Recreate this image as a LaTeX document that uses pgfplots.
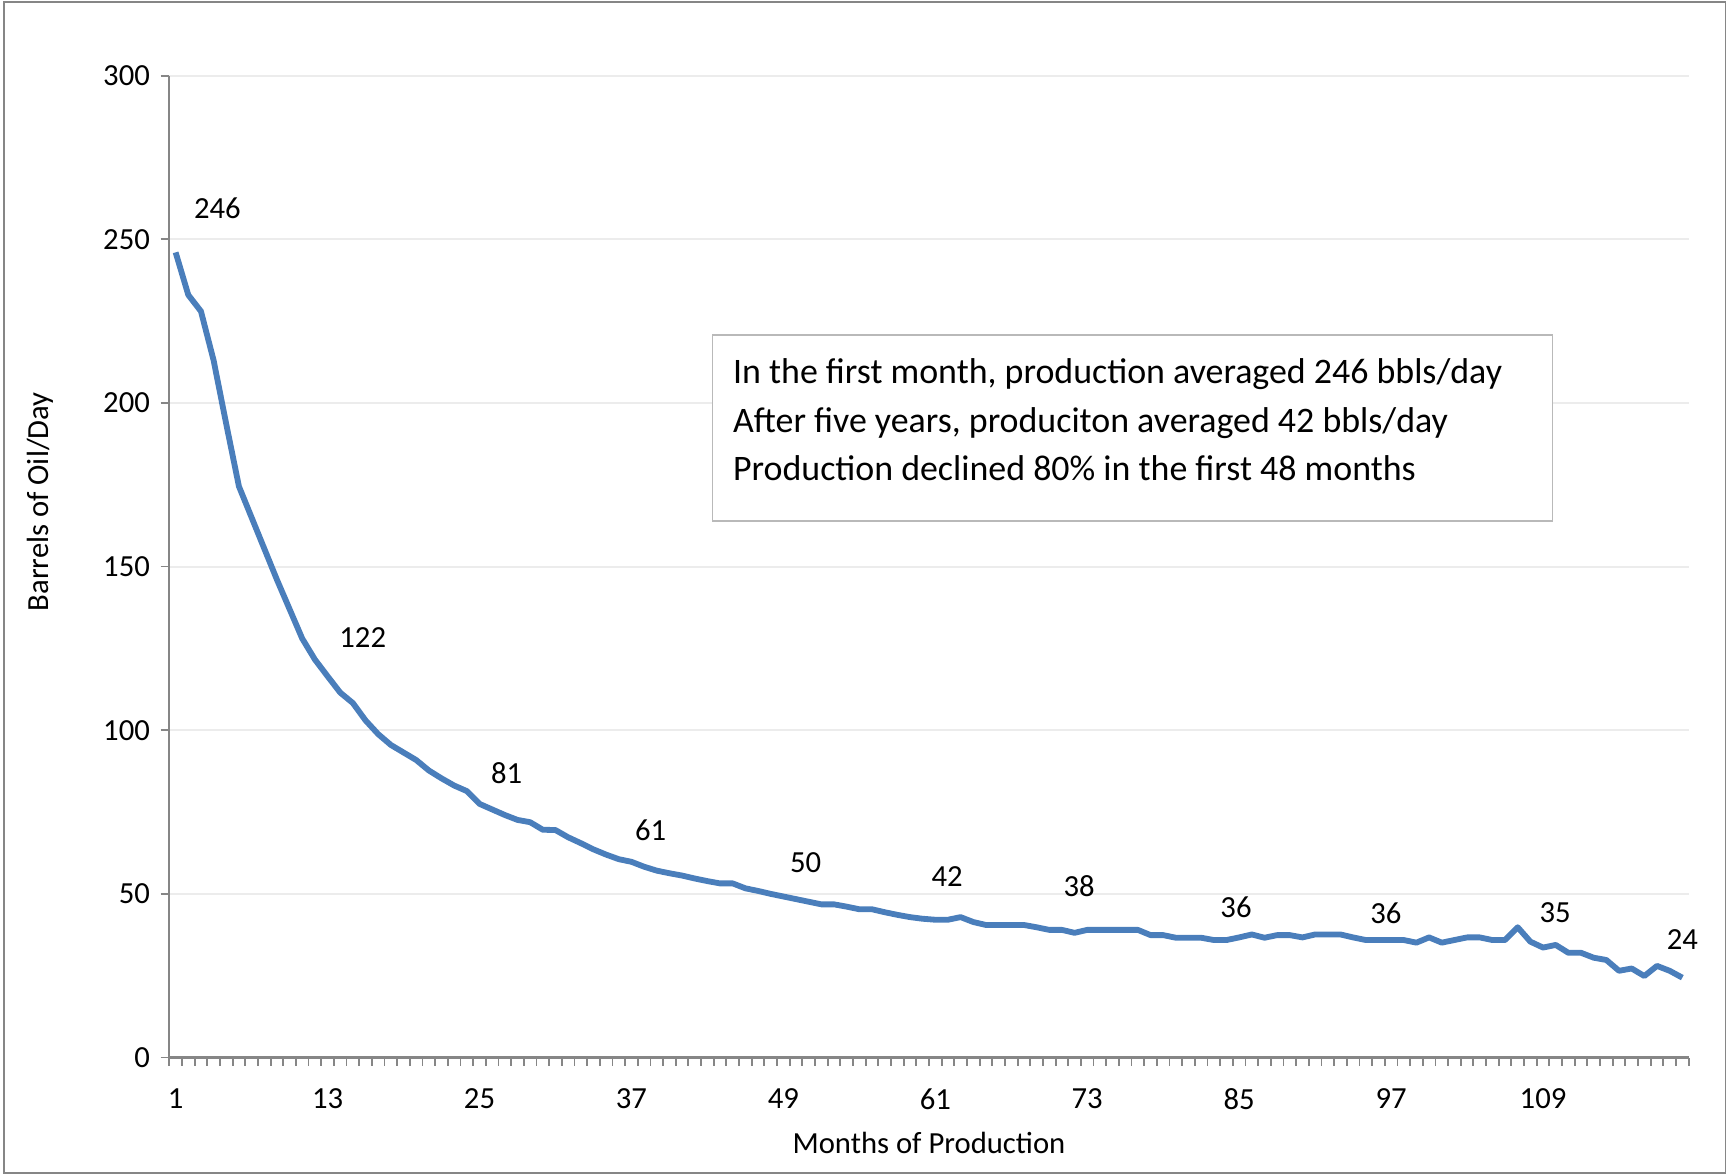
\documentclass[border=0pt]{standalone}
\usepackage{fontspec}
\setmainfont{Carlito}
\usepackage{pgfplots}
\pgfplotsset{compat=1.18}
\usepackage{pgfplotstable}

\definecolor{serieblue}{RGB}{74,126,187}
\definecolor{axisgray}{RGB}{134,134,134}
\definecolor{gridgray}{RGB}{236,236,236}
\definecolor{framegray}{RGB}{134,134,134}
\definecolor{boxgray}{RGB}{185,185,185}

% Average daily oil production by month of production
\pgfplotstableread{
month bopd
1 246
2 233
3 228
4 213
5 193.5
6 174.5
7 165
8 155.5
9 146
10 137
11 128
12 121.6
13 116.5
14 111.5
15 108.3
16 103
17 98.8
18 95.5
19 93.2
20 90.9
21 87.7
22 85.3
23 83.1
24 81.4
25 77.5
26 75.8
27 74.1
28 72.6
29 71.9
30 69.6
31 69.5
32 67.3
33 65.5
34 63.6
35 62.0
36 60.6
37 59.8
38 58.3
39 57.1
40 56.3
41 55.6
42 54.7
43 53.9
44 53.2
45 53.2
46 51.7
47 50.9
48 50.0
49 49.2
50 48.4
51 47.6
52 46.8
53 46.8
54 46.1
55 45.3
56 45.3
57 44.4
58 43.6
59 42.9
60 42.4
61 42.1
62 42.1
63 42.9
64 41.4
65 40.5
66 40.5
67 40.5
68 40.5
69 39.8
70 39.0
71 39.0
72 38.1
73 39.0
74 39.0
75 39.0
76 39.0
77 39.0
78 37.4
79 37.4
80 36.6
81 36.6
82 36.6
83 35.9
84 35.9
85 36.7
86 37.6
87 36.6
88 37.4
89 37.4
90 36.7
91 37.6
92 37.6
93 37.6
94 36.7
95 35.9
96 35.9
97 35.9
98 35.9
99 35.1
100 36.7
101 35.1
102 35.9
103 36.7
104 36.7
105 35.9
106 35.9
107 39.8
108 35.4
109 33.6
110 34.4
111 32.0
112 32.0
113 30.5
114 29.8
115 26.5
116 27.2
117 24.9
118 28.0
119 26.5
120 24.4
}\production

% Yearly checkpoints that carry a value label (offsets in pt)
\pgfplotstableread{
month bopd dx dy
1 246 13.6 14.3
12 121.6 15.6 7.2
24 81.4 13.0 5.9
36 60.6 10.4 9.4
48 50.0 11.4 10.3
60 42.4 8.0 13.6
72 38.1 1.5 15.1
84 35.9 3.1 10.8
96 35.9 2.4 8.6
108 35.4 8.1 9.5
120 24.4 0.0 12.5
}\labelled

\begin{document}
\begin{tikzpicture}
\useasboundingbox (0,0) rectangle (563.65pt,383.05pt);
\draw[framegray, line width=0.6pt] (1.2pt,0.6pt) rectangle (562.5pt,382.4pt);
\begin{axis}[
  at={(55.19pt,38.3pt)}, anchor=south west,
  scale only axis, width=495.3pt, height=320.1pt,
  xmin=0.5, xmax=120.5, ymin=0, ymax=300,
  clip=false,
  axis x line*=bottom, axis y line*=left,
  axis line style={axisgray, line width=0.7pt},
  xtick={1,13,...,109},
  minor xtick={0.5,1.5,...,120.5},
  ytick={0,50,...,300},
  tick align=outside,
  major tick length=2.8pt,
  minor tick length=2.6pt,
  tick style={axisgray, line width=0.6pt},
  major x tick style={draw=none},
  ymajorgrids,
  major grid style={gridgray, line width=0.7pt},
  /pgf/number format/assume math mode=true,
  tick label style={font=\fontsize{10}{12}\selectfont, black},
  xticklabel style={yshift=-3.9pt},
  xlabel={Months of Production},
  ylabel={Barrels of Oil/Day},
  label style={font=\fontsize{10}{12}\selectfont},
  xlabel style={at={(axis description cs:0.5,-0.0875)}, anchor=center},
  ylabel style={at={(axis description cs:-0.0846,0.566)}, anchor=center, rotate=0},
]
\addplot[serieblue, line width=1.9pt, line join=round, mark=none]
  table[x=month, y=bopd] {\production};
\addplot[draw=none, mark=none,
  point meta=y,
  nodes near coords={\pgfmathprintnumber[fixed,precision=0]{\pgfplotspointmeta}},
  visualization depends on={\thisrow{dx}\as\dx},
  visualization depends on={\thisrow{dy}\as\dy},
  nodes near coords style={anchor=center, xshift=\dx*1pt, yshift=\dy*1pt,
    font=\fontsize{10}{12}\selectfont, black},
] table[x=month, y=bopd] {\labelled};
\end{axis}
\draw[boxgray, fill=white, line width=0.5pt] (232.2pt,273.8pt) rectangle (506.1pt,213.2pt);
\begin{scope}[every node/.style={anchor=base west, inner sep=0pt, font=\fontsize{11.7}{14}\selectfont}]
\node at (238.8pt,258.1pt) {In the first month, production averaged 246 bbls/day};
\node at (238.8pt,242.2pt) {After five years, produciton averaged 42 bbls/day};
\node at (238.8pt,226.4pt) {Production declined 80\% in the first 48 months};
\end{scope}
\end{tikzpicture}
\end{document}
